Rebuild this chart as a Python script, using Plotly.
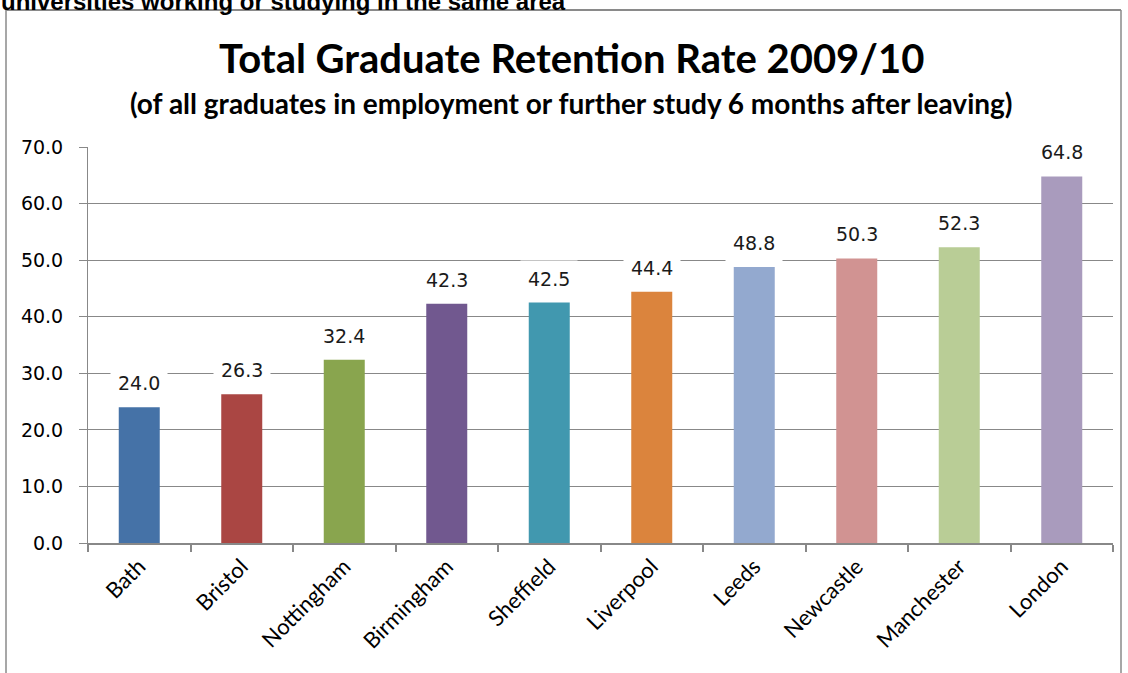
import plotly.graph_objects as go

# Graduate retention rates by city, 2009/10
cities = ["Bath", "Bristol", "Nottingham", "Birmingham", "Sheffield",
          "Liverpool", "Leeds", "Newcastle", "Manchester", "London"]
retention = [24.0, 26.3, 32.4, 42.3, 42.5, 44.4, 48.8, 50.3, 52.3, 64.8]
bar_colors = ["#4572A7", "#AA4643", "#89A54E", "#71588F", "#4198AF",
              "#DB843D", "#93A9CF", "#D19392", "#B9CD96", "#A99BBD"]
y_ticks = [0, 10, 20, 30, 40, 50, 60, 70]

W, H = 1128, 673
L, R, T, B = 88, 15, 147, 130
pw, ph = W - L - R, H - T - B


def px_x(px):
    return (px - L) / pw


def px_y(py):
    return (H - B - py) / ph


fig = go.Figure()
fig.add_trace(go.Bar(
    x=cities, y=retention,
    marker=dict(color=bar_colors, line=dict(width=0)),
    hoverinfo="x+y",
))

# value labels sit in white boxes that hide the gridlines behind them
annotations = []
for c, v in zip(cities, retention):
    annotations.append(dict(
        x=c, y=v, xref="x", yref="y", text=f"{v:.1f}",
        showarrow=False, yanchor="bottom", yshift=5,
        bgcolor="white", borderpad=7,
        font=dict(family="DejaVu Sans", size=19, color="#1a1a1a"),
    ))

annotations += [
    dict(text="<b>Total Graduate Retention Rate 2009/10</b>",
         x=px_x(571), y=px_y(58), xref="paper", yref="paper",
         showarrow=False, xanchor="center", yanchor="middle",
         font=dict(family="Lato", size=40, color="black")),
    dict(text="<b>(of all graduates in employment or further study 6 months after leaving)</b>",
         x=px_x(571), y=px_y(103), xref="paper", yref="paper",
         showarrow=False, xanchor="center", yanchor="middle",
         font=dict(family="Lato", size=28, color="black")),
    dict(text="<b>universities working or studying in the same area</b>",
         x=px_x(0), y=px_y(-13), xref="paper", yref="paper",
         showarrow=False, xanchor="left", yanchor="top", borderpad=0,
         font=dict(family="Liberation Sans", size=24, color="black")),
]

border = "#8a8a8a"
shapes = [
    dict(type="line", xref="paper", yref="paper",
         x0=px_x(6), x1=px_x(6), y0=px_y(10), y1=px_y(690),
         line=dict(color=border, width=1.5)),
    dict(type="line", xref="paper", yref="paper",
         x0=px_x(6), x1=px_x(1121), y0=px_y(10), y1=px_y(10),
         line=dict(color=border, width=2)),
    dict(type="line", xref="paper", yref="paper",
         x0=px_x(1121), x1=px_x(1121), y0=px_y(10), y1=px_y(690),
         line=dict(color=border, width=1.5)),
]

fig.update_layout(
    width=W, height=H,
    margin=dict(l=L, r=R, t=T, b=B, autoexpand=False),
    paper_bgcolor="white", plot_bgcolor="white",
    bargap=0.6, showlegend=False,
    annotations=annotations, shapes=shapes,
)
fig.update_xaxes(
    type="category", tickangle=-45, tickson="boundaries",
    ticks="outside", ticklen=7, tickcolor="#888888", tickwidth=1.5,
    showline=True, linecolor="#888888", linewidth=2,
    showgrid=False,
    tickfont=dict(family="Lato", size=22, color="black"),
)
fig.update_yaxes(
    range=[0, 70], tickvals=y_ticks, tickformat=".1f",
    ticks="outside", ticklen=8, tickcolor="#888888",
    showline=True, linecolor="#888888", linewidth=1,
    showgrid=True, gridcolor="#888888", gridwidth=1,
    zeroline=False, ticklabelstandoff=12,
    tickfont=dict(family="DejaVu Sans", size=19, color="black"),
)

fig.write_html("out.html")
